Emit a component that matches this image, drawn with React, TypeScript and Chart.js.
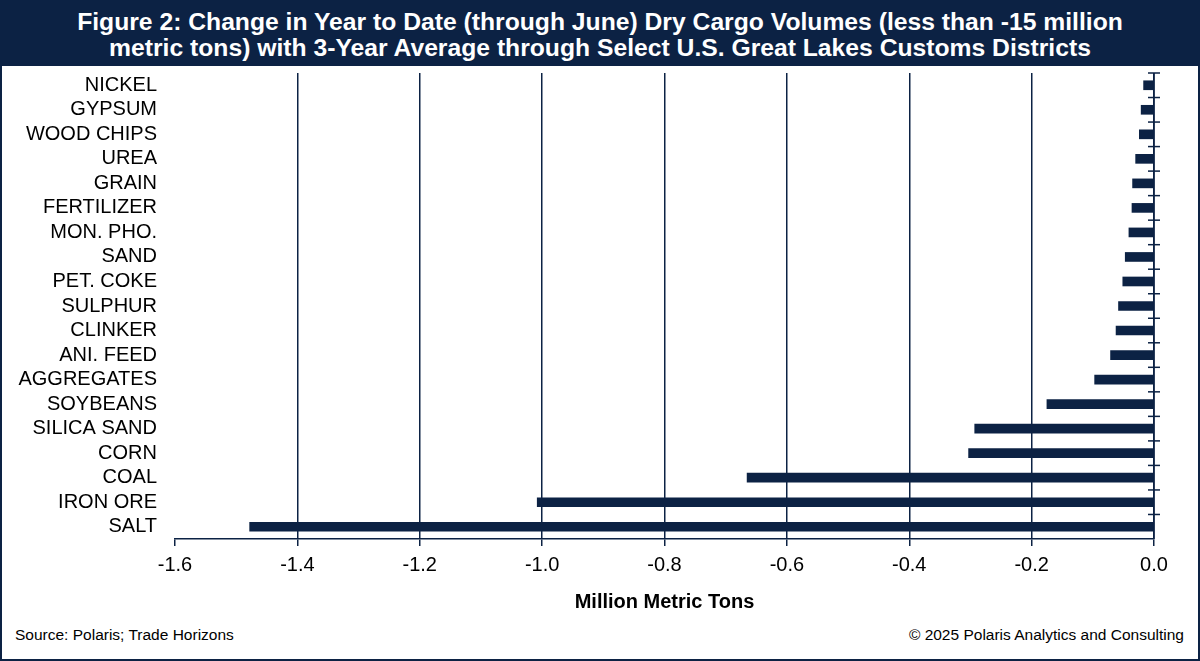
import React, { useEffect, useRef } from "react";
import { Chart, registerables } from "chart.js";

Chart.register(...registerables);

const NAVY = "#0c2244";
const FONT = '"Liberation Sans", Arial, sans-serif';

const categories = [
  "NICKEL", "GYPSUM", "WOOD CHIPS", "UREA", "GRAIN", "FERTILIZER", "MON. PHO.",
  "SAND", "PET. COKE", "SULPHUR", "CLINKER", "ANI. FEED", "AGGREGATES",
  "SOYBEANS", "SILICA SAND", "CORN", "COAL", "IRON ORE", "SALT",
];
const changeValues = [
  -0.017, -0.021, -0.024, -0.030, -0.035, -0.036, -0.041,
  -0.047, -0.051, -0.058, -0.062, -0.071, -0.097,
  -0.175, -0.293, -0.303, -0.665, -1.008, -1.478,
];
const xMin = -1.6;
const xMax = 0;
const xStep = 0.2;

const titleLines = [
  "Figure 2: Change in Year to Date (through June) Dry Cargo Volumes (less than -15 million",
  "metric tons) with 3-Year Average through Select U.S. Great Lakes Customs Districts",
];
const axisTitle = "Million Metric Tons";
const sourceText = "Source: Polaris; Trade Horizons";
const copyrightText = "\u00a9 2025 Polaris Analytics and Consulting";

const zeroAxisPlugin = {
  id: "zeroAxis",
  afterDatasetsDraw(chart: any) {
    const { ctx, chartArea, scales } = chart;
    const xs = scales.x;
    const ys = scales.y;
    const x0 = xs.getPixelForValue(0);
    ctx.save();
    ctx.strokeStyle = NAVY;
    ctx.lineWidth = 1.5;
    ctx.beginPath();
    ctx.moveTo(x0, chartArea.top);
    ctx.lineTo(x0, chartArea.bottom);
    ctx.stroke();
    const n = categories.length;
    const step = (chartArea.bottom - chartArea.top) / n;
    for (let i = 0; i < n; i++) {
      const y = ys.getPixelForValue(i) - step / 2;
      ctx.beginPath();
      ctx.moveTo(x0 - 6, y);
      ctx.lineTo(x0 + 6, y);
      ctx.stroke();
    }
    ctx.restore();
  },
};

export default function App() {
  const ref = useRef<HTMLCanvasElement>(null);

  useEffect(() => {
    document.body.style.margin = "0";
    const chart = new Chart(ref.current as HTMLCanvasElement, {
      type: "bar",
      data: {
        labels: categories,
        datasets: [
          {
            data: changeValues,
            backgroundColor: NAVY,
            borderWidth: 0,
            barThickness: 9,
          },
        ],
      },
      options: {
        indexAxis: "y",
        animation: false,
        responsive: false,
        maintainAspectRatio: false,
        layout: { autoPadding: false, padding: { top: 7, right: 46, bottom: 8, left: 0 } },
        plugins: {
          legend: { display: false },
          tooltip: { enabled: false },
          title: { display: false },
        },
        scales: {
          x: {
            min: xMin,
            max: xMax,
            ticks: {
              stepSize: xStep,
              color: "#000",
              padding: 7,
              font: { family: FONT, size: 20 },
              callback: (v: any) => Number(v).toFixed(1),
            },
            grid: {
              color: (c: any) => (c.index === 0 ? "rgba(0,0,0,0)" : NAVY),
              tickColor: NAVY,
              lineWidth: 1.5,
              tickLength: 7,
            },
            border: { display: true, color: NAVY, width: 1.5 },
            title: {
              display: true,
              text: axisTitle,
              color: "#000",
              font: { family: FONT, size: 20, weight: "bold" },
              padding: { top: 6, bottom: 4 },
            },
          },
          y: {
            afterFit: (s: any) => {
              s.width = 175;
              s.paddingTop = 0;
              s.paddingBottom = 0;
            },
            ticks: {
              color: "#000",
              padding: 18,
              autoSkip: false,
              font: { family: FONT, size: 20 },
            },
            grid: { display: false, drawTicks: false },
            border: { display: false },
          },
        },
      },
      plugins: [zeroAxisPlugin],
    } as any);
    return () => chart.destroy();
  }, []);

  return (
    <div
      style={{
        position: "absolute",
        left: 0,
        top: 0,
        width: 1200,
        height: 661,
        boxSizing: "border-box",
        border: `2px solid ${NAVY}`,
        background: "#fff",
        fontFamily: FONT,
        overflow: "hidden",
      }}
    >
      <div
        style={{
          position: "absolute",
          left: -2,
          top: -2,
          width: 1200,
          height: 66,
          background: NAVY,
          color: "#fff",
          fontWeight: "bold",
          fontSize: 24.7,
          lineHeight: "26px",
          textAlign: "center",
          paddingTop: 9,
          boxSizing: "border-box",
        }}
      >
        {titleLines.map((l, i) => (
          <div key={i}>{l}</div>
        ))}
      </div>
      <canvas
        ref={ref}
        width={1200}
        height={560}
        style={{ position: "absolute", left: -2, top: 64, width: 1200, height: 560 }}
      />
      <div style={{ position: "absolute", left: 13, top: 624, fontSize: 15.5, color: "#000" }}>
        {sourceText}
      </div>
      <div style={{ position: "absolute", right: 14, top: 624, fontSize: 15.5, color: "#000" }}>
        {copyrightText}
      </div>
    </div>
  );
}
